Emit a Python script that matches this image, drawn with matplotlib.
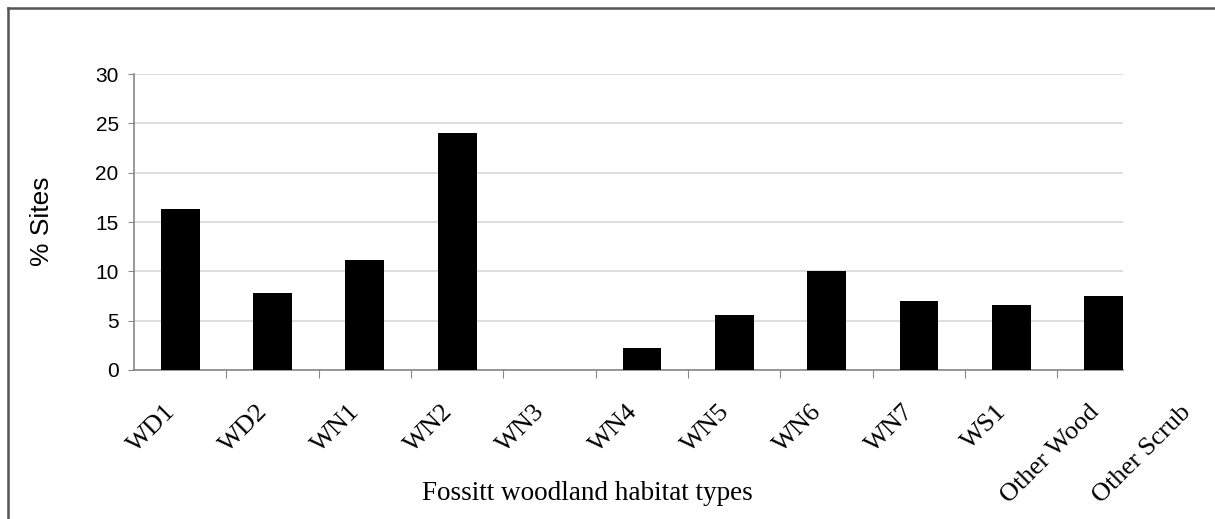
import matplotlib.pyplot as plt
from matplotlib.lines import Line2D
from matplotlib import transforms

habitats = ['WD1', 'WD2', 'WN1', 'WN2', 'WN3', 'WN4', 'WN5', 'WN6',
            'WN7', 'WS1', 'Other Wood', 'Other Scrub']
pct_sites = [16.3, 7.8, 11.15, 24.0, 0, 2.2, 5.6, 10.0, 7.0, 6.6, 7.5, 0]
yticks = [0, 5, 10, 15, 20, 25, 30]

fig = plt.figure(figsize=(12.15, 5.19), dpi=100)
ax = fig.add_axes([0.1103, 0.2871, 0.8140, 0.5703])

ax.bar(range(len(habitats)), pct_sites, width=0.42, color='black', zorder=3)

ax.set_ylim(0, 30)
ax.set_xlim(-0.5, 10.21)
ax.set_yticks(yticks)
ax.set_yticklabels([str(v) for v in yticks], fontsize=15, family='Liberation Sans')
ax.yaxis.grid(True, color='#d4d4d4', linewidth=1.1, zorder=0)
ax.set_axisbelow(True)

ax.set_xticks([i + 0.5 for i in range(10)])
ax.set_xticklabels([])
ax.tick_params(axis='x', length=6, color='#888888', direction='out')
ax.tick_params(axis='y', length=4, color='#888888', pad=7)

for s in ['top', 'right']:
    ax.spines[s].set_visible(False)
for s in ['left', 'bottom']:
    ax.spines[s].set_color('#888888')
    ax.spines[s].set_linewidth(1.2)

# category labels, drawn as text so the last one can sit past the axis end
trans = transforms.blended_transform_factory(ax.transData, ax.transAxes)
off = transforms.ScaledTranslation(-4 / 100, -43 / 100, fig.dpi_scale_trans)
for i, name in enumerate(habitats):
    ax.text(i, 0, name, transform=trans + off, rotation=45, ha='right',
            va='baseline', rotation_mode='anchor', fontsize=19,
            family='Liberation Serif', clip_on=False)

fig.text(587 / 1215, 1 - 493 / 519, 'Fossitt woodland habitat types',
         ha='center', va='center', fontsize=19.5, family='Liberation Serif')
fig.text(42 / 1215, 1 - 221 / 519, '% Sites', rotation=90, ha='center',
         va='center', fontsize=19, family='Liberation Sans')

# frame around the figure (left and top edges visible)
fig.add_artist(Line2D([8 / 1215, 8 / 1215], [0, 1 - 8 / 519],
                      transform=fig.transFigure, color='#555555', linewidth=1.8))
fig.add_artist(Line2D([8 / 1215, 1], [1 - 8 / 519, 1 - 8 / 519],
                      transform=fig.transFigure, color='#555555', linewidth=1.8))

fig.savefig('out.png', dpi=100)
